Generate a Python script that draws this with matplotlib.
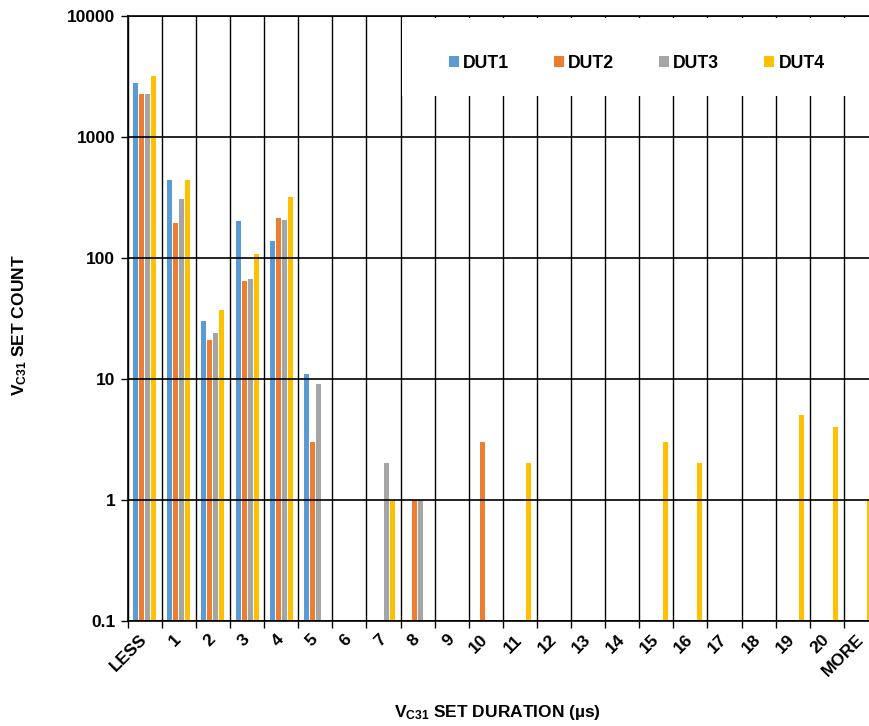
import matplotlib
matplotlib.use("Agg")
import matplotlib.pyplot as plt
import matplotlib.ticker as mticker
from matplotlib.patches import Rectangle
import numpy as np

plt.rcParams['font.family'] = ['Liberation Sans', 'DejaVu Sans']
plt.rcParams['font.weight'] = 'bold'
plt.rcParams['mathtext.fontset'] = 'custom'
plt.rcParams['mathtext.rm'] = 'Liberation Sans:bold'
plt.rcParams['mathtext.bf'] = 'Liberation Sans:bold'
plt.rcParams['mathtext.it'] = 'Liberation Sans:bold'

# categories (set duration bins, µs)
categories = ['LESS'] + [str(i) for i in range(1, 21)] + ['MORE']

# counts per bin, 0 = no bar
dut1 = [2800, 435, 30, 200, 138, 11, 0, 0, 0, 0, 0, 0, 0, 0, 0, 0, 0, 0, 0, 0, 0, 0]
dut2 = [2270, 195, 21, 64, 212, 3, 0, 0, 1, 0, 3, 0, 0, 0, 0, 0, 0, 0, 0, 0, 0, 0]
dut3 = [2240, 308, 24, 67, 205, 9, 0, 2, 1, 0, 0, 0, 0, 0, 0, 0, 0, 0, 0, 0, 0, 0]
dut4 = [3150, 440, 37, 108, 320, 0, 0, 1, 0, 0, 0, 2, 0, 0, 0, 3, 2, 0, 0, 5, 4, 1]

series = [('DUT1', dut1, '#5B9BD5'),
          ('DUT2', dut2, '#ED7D31'),
          ('DUT3', dut3, '#A5A5A5'),
          ('DUT4', dut4, '#FFC000')]

W, H = 869, 726
fig = plt.figure(figsize=(W / 100, H / 100), dpi=100)
left, right, top, bottom = 127.7, 878.0, 15.7, 620.7
ax = fig.add_axes([left / W, 1 - bottom / H, (right - left) / W, (bottom - top) / H])

x = np.arange(len(categories))
step, width = 0.176, 0.147
for k, (name, vals, col) in enumerate(series):
    v = np.array(vals, dtype=float)
    v[v == 0] = np.nan
    ax.bar(x + (k - 1.5) * step, v, width=width, color=col, label=name,
           linewidth=0, bottom=0.1 if False else None)

ax.set_yscale('log')
ax.set_ylim(0.1, 10000)
ax.set_xlim(-0.5, len(categories) - 0.5)
ax.yaxis.set_major_locator(mticker.FixedLocator([0.1, 1, 10, 100, 1000, 10000]))
ax.yaxis.set_major_formatter(mticker.FixedFormatter(['0.1', '1', '10', '100', '1000', '10000']))
ax.yaxis.set_minor_locator(mticker.NullLocator())

ax.set_xticks(x)
ax.set_xticklabels(categories, rotation=45, ha='right', va='center',
                   rotation_mode='anchor', fontsize=12.5, fontweight='bold')
ax.set_xticks(np.arange(-0.5, len(categories), 1), minor=True)
ax.tick_params(axis='x', which='major', length=0, pad=12)
ax.tick_params(axis='x', which='minor', length=5, width=1, color='black')
ax.tick_params(axis='y', which='major', length=5, width=1, pad=4, labelsize=12.5)
for t in ax.get_yticklabels():
    t.set_fontweight('bold')

ax.grid(True, axis='y', which='major', color='black', linewidth=1.2)
ax.grid(True, axis='x', which='minor', color='black', linewidth=1.0)
for s in ax.spines.values():
    s.set_linewidth(1.2)

# white box behind the legend hides the gridlines there
ax.add_patch(Rectangle((402, H - 96), 600, 78, transform=None,
                       facecolor='white', edgecolor='none', zorder=2.2))

leg = fig.legend(loc='center left', bbox_to_anchor=(440 / W, 1 - 63 / H), ncol=4,
                 frameon=False, fontsize=12.7, handlelength=0.55, handleheight=0.55,
                 handletextpad=0.25, columnspacing=2.55, borderpad=0)
for t in leg.get_texts():
    t.set_fontweight('bold')

fig.text(20 / W, 1 - 325 / H, r'$\mathbf{V_{C31}}$ SET COUNT', rotation=90,
         ha='center', va='center', fontsize=12.5, fontweight='bold')
fig.text(497 / W, 1 - 712 / H, r'$\mathbf{V_{C31}}$ SET DURATION (µs)',
         ha='center', va='center', fontsize=12.5, fontweight='bold')

fig.savefig('out.png', dpi=100)
